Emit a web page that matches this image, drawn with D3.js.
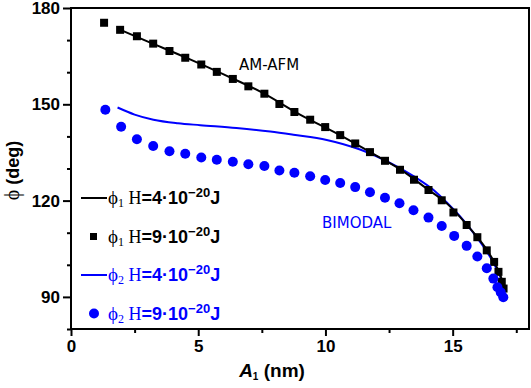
<!DOCTYPE html>
<meta charset="utf-8">
<style>
body { margin: 0; background: #fff; }
.tick text { font-family: Arial, "Liberation Sans", sans-serif; font-weight: bold; font-size: 17px; }
.frame { fill: none; stroke: #000; stroke-width: 2px; }
</style>
<body>
<script src="https://d3js.org/d3.v7.min.js"></script>
<script>

// phi_1, H=9e-20 J (black squares)
var sqX = [1.30, 1.93, 2.59, 3.23, 3.87, 4.49, 5.12, 5.73, 6.36, 6.97, 7.60, 8.19, 8.78, 9.40, 9.99,
           10.58, 11.17, 11.75, 12.34, 12.93, 13.48, 14.05, 14.57, 15.03, 15.55, 15.97, 16.34, 16.63, 16.80, 16.93, 17.00];
var sqY = [175.4, 173.2, 171.2, 168.9, 166.6, 164.5, 162.4, 160.1, 157.9, 155.6, 153.3, 150.1, 147.6, 145.2, 142.9,
           140.4, 137.8, 135.1, 132.4, 129.6, 126.5, 123.3, 120.1, 116.3, 112.4, 108.6, 104.5, 100.9, 97.8, 94.7, 92.6];

// phi_1, H=4e-20 J (black line)
var l1X = [1.85, 3.0, 4.5, 6.0, 7.5, 9.0, 10.5, 12.0, 13.0, 14.0, 14.8, 15.5, 16.0, 16.4, 16.7, 16.9, 17.05];
var l1Y = [173.5, 169.6, 164.6, 159.3, 153.7, 146.8, 140.7, 134.0, 129.4, 123.6, 118.9, 113.0, 108.3, 104.0, 99.8, 96.2, 91.8];

// phi_2, H=4e-20 J (blue line)
var l2X = [1.83, 2.5, 3.24, 4.2, 5.08, 6.5, 7.83, 8.74, 10.05, 11.36, 12.67, 13.46, 14.38, 14.77, 15.3, 15.81, 16.2, 16.6, 16.85, 17.08];
var l2Y = [149.0, 146.8, 145.2, 144.1, 143.5, 142.6, 141.5, 140.5, 138.9, 135.9, 131.2, 127.6, 122.4, 119.4, 115.0, 110.0, 105.8, 100.7, 96.6, 91.9];

// phi_2, H=9e-20 J (blue dots)
var ciX = [1.35, 1.97, 2.59, 3.23, 3.87, 4.49, 5.12, 5.73, 6.36, 6.97, 7.60, 8.19, 8.78, 9.40, 9.99, 10.58, 11.17,
           11.75, 12.34, 12.91, 13.46, 14.05, 14.57, 15.06, 15.55, 15.97, 16.34, 16.60, 16.76, 16.89, 16.99];
var ciY = [148.3, 143.0, 139.1, 137.0, 135.4, 134.6, 133.4, 132.7, 132.1, 131.3, 130.8, 129.4, 128.7, 127.6, 126.4, 125.5, 124.2,
           122.6, 120.9, 119.2, 117.0, 114.7, 112.1, 109.0, 105.9, 102.6, 98.9, 95.7, 93.0, 91.4, 89.9];

var xTicks = [0, 5, 10, 15];
var xMinor = [2.5, 7.5, 12.5, 17.5];
var yTicks = [90, 120, 150, 180];
var yMinor = [80, 100, 110, 130, 140, 160, 170];

var legendRows = [
  {sub: "1", val: "4", kind: "line", color: "#000"},
  {sub: "1", val: "9", kind: "square", color: "#000"},
  {sub: "2", val: "4", kind: "line", color: "#0000ff"},
  {sub: "2", val: "9", kind: "circle", color: "#0000ff"}
];

var W = 531, H = 388;
var margin = {top: 8, right: 2, bottom: 59, left: 71};
var width = W - margin.left - margin.right,
    height = H - margin.top - margin.bottom;

var svg = d3.select("body").append("svg")
    .attr("width", W)
    .attr("height", H)
  .append("g")
    .attr("transform", "translate(" + margin.left + "," + margin.top + ")");

var x = d3.scaleLinear().domain([0, 18]).range([0, width]);
var y = d3.scaleLinear().domain([80, 180]).range([height, 0]);

function zip(a, b) { return a.map(function(v, i) { return [v, b[i]]; }); }

// minor ticks
svg.append("g")
    .attr("transform", "translate(0," + height + ")")
    .call(d3.axisBottom(x).tickValues(xMinor).tickSize(4).tickFormat(""))
    .call(function(g) { g.select(".domain").remove(); g.selectAll("line").attr("stroke-width", 2); });
svg.append("g")
    .call(d3.axisLeft(y).tickValues(yMinor).tickSize(4).tickFormat(""))
    .call(function(g) { g.select(".domain").remove(); g.selectAll("line").attr("stroke-width", 2); });

// major ticks
svg.append("g")
    .attr("transform", "translate(0," + height + ")")
    .call(d3.axisBottom(x).tickValues(xTicks).tickSize(7).tickPadding(4))
    .call(function(g) { g.select(".domain").remove(); g.selectAll("line").attr("stroke-width", 2); });
svg.append("g")
    .call(d3.axisLeft(y).tickValues(yTicks).tickSize(8).tickPadding(3))
    .call(function(g) { g.select(".domain").remove(); g.selectAll("line").attr("stroke-width", 2); });

svg.append("rect")
    .attr("class", "frame")
    .attr("x", 0).attr("y", 0)
    .attr("width", width).attr("height", height);

var line = d3.line().curve(d3.curveMonotoneX)
    .x(function(d) { return x(d[0]); })
    .y(function(d) { return y(d[1]); });

svg.append("path")
    .datum(zip(l2X, l2Y))
    .attr("fill", "none").attr("stroke", "#0000ff").attr("stroke-width", 2)
    .attr("d", line);

svg.append("path")
    .datum(zip(l1X, l1Y))
    .attr("fill", "none").attr("stroke", "#000").attr("stroke-width", 2)
    .attr("d", line);

svg.selectAll(".sq")
    .data(zip(sqX, sqY))
    .enter().append("rect")
    .attr("x", function(d) { return x(d[0]) - 4; })
    .attr("y", function(d) { return y(d[1]) - 4; })
    .attr("width", 8).attr("height", 8)
    .attr("fill", "#000");

svg.selectAll(".ci")
    .data(zip(ciX, ciY))
    .enter().append("circle")
    .attr("cx", function(d) { return x(d[0]); })
    .attr("cy", function(d) { return y(d[1]); })
    .attr("r", 5)
    .attr("fill", "#0000ff");

// annotations
svg.append("text")
    .attr("x", 168).attr("y", 62)
    .style("font-family", "DejaVu Sans, Verdana, sans-serif")
    .style("font-size", "15px")
    .text("AM-AFM");

svg.append("text")
    .attr("x", 251).attr("y", 220)
    .style("font-family", "DejaVu Sans, Verdana, sans-serif")
    .style("font-size", "15px")
    .attr("fill", "#0000ff")
    .text("BIMODAL");

// legend
var leg = svg.append("g").attr("transform", "translate(" + (-margin.left) + "," + (-margin.top) + ")");
legendRows.forEach(function(r, i) {
  var cy = 198 + i * 38.5;
  if (r.kind === "line") {
    leg.append("line").attr("x1", 81).attr("x2", 107).attr("y1", cy).attr("y2", cy)
        .attr("stroke", r.color).attr("stroke-width", 2);
  } else if (r.kind === "square") {
    leg.append("rect").attr("x", 90).attr("y", cy - 3.5).attr("width", 7).attr("height", 7).attr("fill", r.color);
  } else {
    leg.append("circle").attr("cx", 94).attr("cy", cy).attr("r", 5).attr("fill", r.color);
  }
  var t = leg.append("text").attr("x", 108).attr("y", cy + 6).attr("fill", r.color)
      .style("font-size", "18px");
  t.append("tspan").style("font-family", "Liberation Serif, Times New Roman, serif").style("font-size", "19px").text("\u03d5");
  t.append("tspan").style("font-family", "Liberation Serif, serif").style("font-size", "12px")
      .attr("dy", 3).text(r.sub);
  t.append("tspan").style("font-family", "Liberation Serif, serif").attr("dy", -3).text(" H");
  t.append("tspan").style("font-family", "Liberation Sans, Arial, sans-serif").style("font-weight", "bold")
      .text("=" + r.val + "\u00b710");
  t.append("tspan").style("font-family", "Liberation Sans, Arial, sans-serif").style("font-weight", "bold")
      .style("font-size", "13px").attr("dy", -7).text("\u221220");
  t.append("tspan").style("font-family", "Liberation Sans, Arial, sans-serif").style("font-weight", "bold")
      .attr("dy", 7).text("J");
});

// axis titles
var xt = svg.append("text")
    .attr("x", 201).attr("y", height + 48)
    .attr("text-anchor", "middle")
    .style("font-family", "Liberation Sans, Arial, sans-serif")
    .style("font-weight", "bold")
    .style("font-size", "19px");
xt.append("tspan").style("font-style", "italic").text("A");
xt.append("tspan").style("font-size", "10px").attr("dy", 3).text("1");
xt.append("tspan").attr("dy", -3).text(" (nm)");

var yt = svg.append("text")
    .attr("transform", "translate(" + (-52) + "," + (height / 2 + 2) + ") rotate(-90)")
    .attr("text-anchor", "middle")
    .style("font-size", "18px");
yt.append("tspan").style("font-family", "Liberation Serif, serif").style("font-size", "20px").text("\u03d5");
yt.append("tspan").style("font-family", "Liberation Sans, Arial, sans-serif").style("font-weight", "bold").text(" (deg)");

</script>
</body>
